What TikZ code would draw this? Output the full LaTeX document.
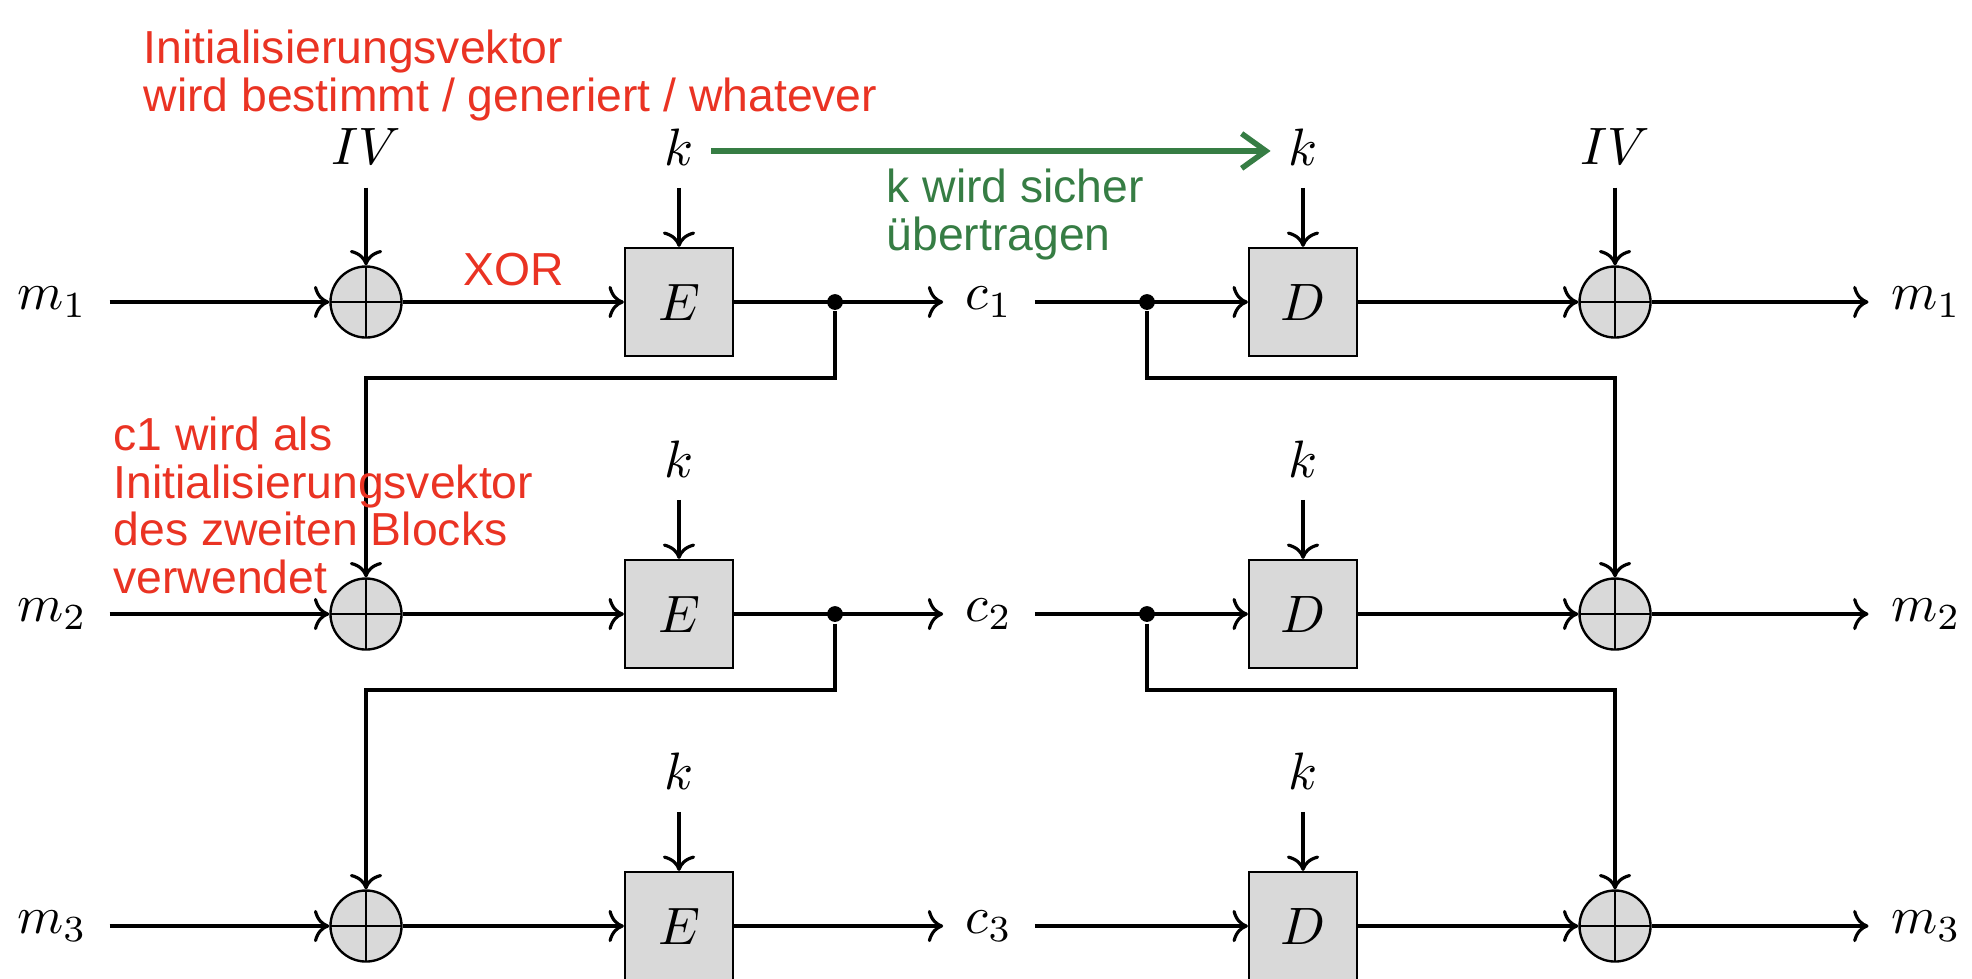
\documentclass[tikz,border=0pt]{standalone}
\usepackage{fontspec}
\usetikzlibrary{arrows.meta}
\newfontfamily\notefont{Liberation Sans}
\definecolor{notered}{RGB}{234,51,35}
\definecolor{notegreen}{RGB}{54,125,68}

\tikzset{every picture/.style={line width=0.6pt}}
\tikzset{
  lbl/.style={inner sep=4pt},
  blk/.style={draw,line width=0.45pt,fill=black!15,minimum size=20.5pt,inner sep=0pt},
  xorc/.style={circle,draw,line width=0.45pt,fill=black!15,minimum size=13.5pt,inner sep=0pt,
    path picture={\draw[line width=0.45pt] (path picture bounding box.north) -- (path picture bounding box.south)
      (path picture bounding box.west) -- (path picture bounding box.east);}},
  dot/.style={circle,fill,inner sep=0pt,minimum size=3pt},
  conn/.style={->},
  note/.style={font=\notefont\fontsize{8.8}{9.1}\selectfont,text=notered,align=left,anchor=north west,inner sep=0pt},
  sendk/.style={draw=notegreen,line width=1.05pt,shorten <=-0.9pt,shorten >=-0.9pt,
    -{Straight Barb[length=4.6pt,width=6.6pt]}}
}

\begin{document}
\begin{tikzpicture}[x=0.19pt,y=0.19pt,yscale=-1]
\useasboundingbox (0,0) rectangle (1972,978);

%Encryption, row 1
\node[lbl] (m1) at (52,302) {$m_1$};
\node[xorc] (x1) at (366,302) {};
\node[blk] (e1) at (679,302) {$E$};
\node[dot] (d1) at (835,302) {};
\node[lbl] (c1) at (989,302) {$c_1$};
\node[lbl] (iv1) at (366,147) {$IV$};
\node[lbl] (k1) at (679,147) {$k$};
%Decryption, row 1
\node[dot] (g1) at (1147,302) {};
\node[blk] (dd1) at (1303,302) {$D$};
\node[xorc] (y1) at (1615,302) {};
\node[lbl] (n1) at (1926,302) {$m_1$};
\node[lbl] (k4) at (1303,147) {$k$};
\node[lbl] (iv2) at (1615,147) {$IV$};

%Row 2
\node[lbl] (m2) at (52,614) {$m_2$};
\node[xorc] (x2) at (366,614) {};
\node[blk] (e2) at (679,614) {$E$};
\node[dot] (d2) at (835,614) {};
\node[lbl] (c2) at (989,614) {$c_2$};
\node[lbl] (k2) at (679,459) {$k$};
\node[dot] (g2) at (1147,614) {};
\node[blk] (dd2) at (1303,614) {$D$};
\node[xorc] (y2) at (1615,614) {};
\node[lbl] (n2) at (1926,614) {$m_2$};
\node[lbl] (k5) at (1303,459) {$k$};

%Row 3
\node[lbl] (m3) at (52,926) {$m_3$};
\node[xorc] (x3) at (366,926) {};
\node[blk] (e3) at (679,926) {$E$};
\node[lbl] (c3) at (989,926) {$c_3$};
\node[lbl] (k3) at (679,771) {$k$};
\node[blk] (dd3) at (1303,926) {$D$};
\node[xorc] (y3) at (1615,926) {};
\node[lbl] (n3) at (1926,926) {$m_3$};
\node[lbl] (k6) at (1303,771) {$k$};

%Straight Lines
\draw[conn] (m1) -- (x1);
\draw[conn] (x1) -- (e1);
\draw[conn] (e1) -- (c1);
\draw[conn] (c1) -- (dd1);
\draw[conn] (dd1) -- (y1);
\draw[conn] (y1) -- (n1);
\draw[conn] (iv1) -- (x1);
\draw[conn] (k1) -- (e1);
\draw[conn] (k4) -- (dd1);
\draw[conn] (iv2) -- (y1);

\draw[conn] (m2) -- (x2);
\draw[conn] (x2) -- (e2);
\draw[conn] (e2) -- (c2);
\draw[conn] (c2) -- (dd2);
\draw[conn] (dd2) -- (y2);
\draw[conn] (y2) -- (n2);
\draw[conn] (k2) -- (e2);
\draw[conn] (k5) -- (dd2);

\draw[conn] (m3) -- (x3);
\draw[conn] (x3) -- (e3);
\draw[conn] (e3) -- (c3);
\draw[conn] (c3) -- (dd3);
\draw[conn] (dd3) -- (y3);
\draw[conn] (y3) -- (n3);
\draw[conn] (k3) -- (e3);
\draw[conn] (k6) -- (dd3);

%Feedback
\draw[conn] (d1) -- ++(0,76) -| (x2);
\draw[conn] (d2) -- ++(0,76) -| (x3);
\draw[conn] (g1) -- ++(0,76) -| (y2);
\draw[conn] (g2) -- ++(0,76) -| (y3);

%Key transfer
\draw[sendk] ([yshift=0.75pt]k1.east) -- ([yshift=0.75pt]k4.west);

% Text Node
\node[note] (ivnote) at (142,28) {Initialisierungsvektor\\wird bestimmt / generiert / whatever};
% Text Node
\node[note] (xornote) at (462,252) {XOR};
% Text Node
\node[note] (c1note) at (112,415) {c1 wird als\\Initialisierungsvektor\\des zweiten Blocks\\verwendet};
% Text Node
\node[note,text=notegreen] (knote) at (885,167) {k wird sicher\\übertragen};

\end{tikzpicture}
\end{document}
